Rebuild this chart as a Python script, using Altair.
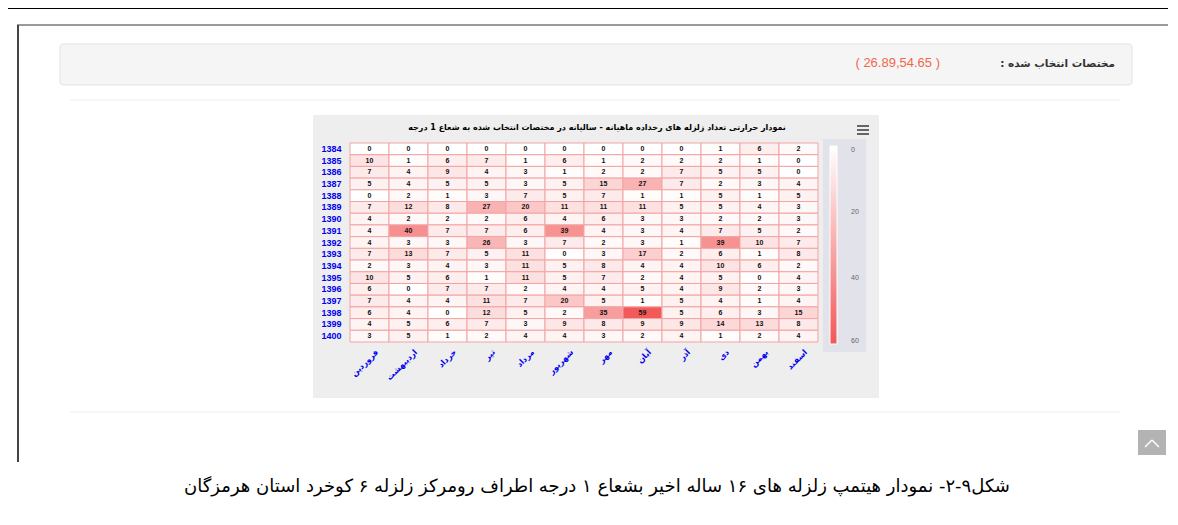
import altair as alt
import pandas as pd

# ---------------- data ----------------
years = list(range(1384, 1401))
months = ["فروردین", "اردیبهشت", "خرداد", "تیر", "مرداد", "شهریور",
          "مهر", "آبان", "آذر", "دی", "بهمن", "اسفند"]
y1384 = [0, 0, 0, 0, 0, 0, 0, 0, 0, 1, 6, 2]
y1385 = [10, 1, 6, 7, 1, 6, 1, 2, 2, 2, 1, 0]
y1386 = [7, 4, 9, 4, 3, 1, 2, 2, 7, 5, 5, 0]
y1387 = [5, 4, 5, 5, 3, 5, 15, 27, 7, 2, 3, 4]
y1388 = [0, 2, 1, 3, 7, 5, 7, 1, 1, 5, 1, 5]
y1389 = [7, 12, 8, 27, 20, 11, 11, 11, 5, 5, 4, 3]
y1390 = [4, 2, 2, 2, 6, 4, 6, 3, 3, 2, 2, 3]
y1391 = [4, 40, 7, 7, 6, 39, 4, 3, 4, 7, 5, 2]
y1392 = [4, 3, 3, 26, 3, 7, 2, 3, 1, 39, 10, 7]
y1393 = [7, 13, 7, 5, 11, 0, 3, 17, 2, 6, 1, 8]
y1394 = [2, 3, 4, 3, 11, 5, 8, 4, 4, 10, 6, 2]
y1395 = [10, 5, 6, 1, 11, 5, 7, 2, 4, 5, 0, 4]
y1396 = [6, 0, 7, 7, 2, 4, 4, 5, 4, 9, 2, 3]
y1397 = [7, 4, 4, 11, 7, 20, 5, 1, 5, 4, 1, 4]
y1398 = [6, 4, 0, 12, 5, 2, 35, 59, 5, 6, 3, 15]
y1399 = [4, 5, 6, 7, 3, 9, 8, 9, 9, 14, 13, 8]
y1400 = [3, 5, 1, 2, 4, 4, 3, 2, 4, 1, 2, 4]
rows = [y1384, y1385, y1386, y1387, y1388, y1389, y1390, y1391, y1392,
        y1393, y1394, y1395, y1396, y1397, y1398, y1399, y1400]
legend_ticks = [0, 20, 40, 60]

chart_title = "نمودار حرارتی تعداد زلزله های رخداده ماهیانه - سالیانه در مختصات انتخاب شده به شعاع 1 درجه"
panel_label = "مختصات انتخاب شده :\u200f"
panel_value = "( 26.89,54.65 )"
caption = "شکل۹-۲- نمودار هیتمپ زلزله های ۱۶ ساله اخیر بشعاع ۱ درجه اطراف رومرکز زلزله ۶ کوخرد استان هرمزگان"

df = pd.DataFrame([
    {"year": y, "month": m, "count": rows[i][j]}
    for i, y in enumerate(years) for j, m in enumerate(months)
])

# ---------------- layout helpers (page px -> plot px) ----------------
OX, OY = 350, 143
W, H = 468, 199
one = pd.DataFrame({"k": [0]})


def X(p):
    return p - OX


def Y(p):
    return p - OY


def box(x1, y1, x2, y2, **kw):
    return alt.Chart(one).mark_rect(**kw).encode(
        x=alt.value(X(x1)), x2=alt.value(X(x2)),
        y=alt.value(Y(y1)), y2=alt.value(Y(y2)))


def line(x1, y1, x2, y2, **kw):
    return alt.Chart(one).mark_rule(**kw).encode(
        x=alt.value(X(x1)), x2=alt.value(X(x2)),
        y=alt.value(Y(y1)), y2=alt.value(Y(y2)))


def label(x, y, txt, **kw):
    return alt.Chart(one).mark_text(text=txt, **kw).encode(
        x=alt.value(X(x)), y=alt.value(Y(y)))


# ---------------- page chrome ----------------
chrome = [
    line(4, 8, 1178, 8, color="#000000", strokeWidth=2),
    line(4, 8, 4, 525, color="#000000", strokeWidth=2),
    line(17, 25, 1168, 25, color="#9a9a9a", strokeWidth=2),
    line(18, 25, 18, 462, color="#444444", strokeWidth=2),
    box(60, 44, 1132, 85, color="#f5f5f5", stroke="#e3e3e3", strokeWidth=1, cornerRadius=3),
    line(70, 100, 1120, 100, color="#eeeeee", strokeWidth=1),
    line(70, 412, 1120, 412, color="#eeeeee", strokeWidth=1),
    box(1138, 430, 1166, 455, color="#b3b3b3"),
    line(1145, 447, 1152, 440, color="#ffffff", strokeWidth=1.5),
    line(1152, 440, 1159, 447, color="#ffffff", strokeWidth=1.5),
    box(313, 115, 879, 398, color="#eeeeee"),
    line(857, 126, 869, 126, color="#666666", strokeWidth=2),
    line(857, 130, 869, 130, color="#666666", strokeWidth=2),
    line(857, 134, 869, 134, color="#666666", strokeWidth=2),
    label(1115, 64, panel_label, align="right", baseline="middle",
          font="DejaVu Sans", fontSize=10.5, fontWeight="bold", color="#333333"),
    label(940, 63, panel_value, align="right", baseline="middle",
          font="Liberation Sans", fontSize=13, color="#f0674d"),
    label(597, 128, chart_title, align="center", baseline="middle",
          font="DejaVu Sans", fontSize=8, fontWeight="bold", color="#000000"),
    label(597, 487, caption, align="center", baseline="middle",
          font="DejaVu Sans", fontSize=18, color="#000000"),
]

# ---------------- heatmap ----------------
xenc = alt.X("month:N", sort=months, title=None,
             scale=alt.Scale(paddingInner=0, paddingOuter=0),
             axis=alt.Axis(labelAngle=315, labelColor="#0000ee", labelFontSize=8,
                           labelFont="DejaVu Sans", labelFontWeight="bold",
                           labelPadding=6, labelOffset=5,
                           ticks=False, domain=False, grid=False))
yenc = alt.Y("year:O", title=None,
             scale=alt.Scale(paddingInner=0, paddingOuter=0),
             axis=alt.Axis(labelColor="#0000ee", labelFontSize=9,
                           labelFont="Liberation Sans", labelFontWeight="bold",
                           labelPadding=9, ticks=False, domain=False, grid=False))

heat = alt.Chart(df).mark_rect(stroke="#f3a3a3", strokeWidth=1).encode(
    x=xenc, y=yenc,
    color=alt.Color("count:Q",
                    scale=alt.Scale(domain=[60, 0], range=["#f25757", "#ffffff"],
                                    interpolate="rgb"),
                    legend=alt.Legend(orient="none", legendX=473, legendY=-4,
                                      direction="vertical", title=None,
                                      gradientLength=198, gradientThickness=7,
                                      values=legend_ticks, labelColor="#666666",
                                      labelFontSize=7, labelOffset=14,
                                      fillColor="#e2e2ea", padding=7,
                                      gradientStrokeColor="#ffffff",
                                      gradientStrokeWidth=1)),
)

nums = alt.Chart(df).mark_text(font="Liberation Sans", fontSize=7, fontWeight="bold",
                               color="#111111").encode(
    x=alt.X("month:N", sort=months), y=alt.Y("year:O"), text="count:Q")

chart = alt.layer(*chrome, heat, nums).properties(
    width=W, height=H,
    autosize=alt.AutoSizeParams(type="none"),
    padding={"left": 342, "top": 135, "right": 350, "bottom": 174},
    background="#ffffff",
).configure_view(stroke="#d0d0d0")

chart.save("out.html", embed_options={"renderer": "svg", "actions": False})
